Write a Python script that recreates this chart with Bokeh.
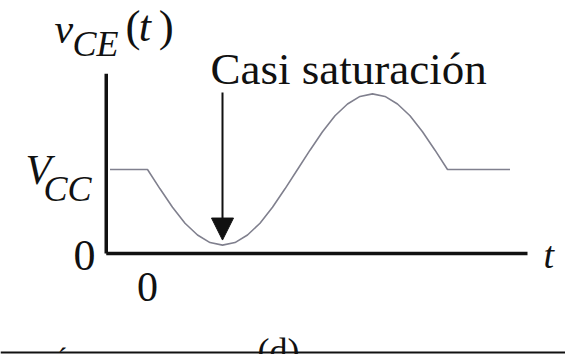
from bokeh.plotting import figure
from bokeh.models import Range1d, Arrow, NormalHead, ColumnDataSource
from bokeh.core.properties import value
from bokeh.embed import file_html
from bokeh.resources import INLINE

# Collector-emitter voltage near saturation: one sinusoidal period around V_CC.
# Time is in 1/24 of a period; voltage in units of V_CC.
VCC = 1.0
T_SAMPLES = [-3, 0, 1, 2, 3, 4, 5, 6, 7, 8, 9, 10, 11, 12,
             13, 14, 15, 16, 17, 18, 19, 20, 21, 22, 23, 24, 29]
V_SAMPLES = [1.00, 1.00, 0.77, 0.55, 0.36, 0.22, 0.13, 0.10, 0.13, 0.22, 0.36, 0.55, 0.77, 1.00,
             1.23, 1.45, 1.64, 1.78, 1.87, 1.90, 1.87, 1.78, 1.64, 1.45, 1.23, 1.00, 1.00]
T_SAT = 6            # instant of minimum v_CE (near saturation)
AXIS_T = [-3.3, 30.4]
AXIS_V = [0.0, 2.14]

SERIF = value("Liberation Serif")
V_PER_PX = 1 / 84.0   # vertical data units per screen pixel

p = figure(width=565, height=354,
           x_range=Range1d(-11.76, 33.44), y_range=Range1d(-1.2024, 3.0119),
           x_axis_type=None, y_axis_type=None,
           output_backend="svg", toolbar_location=None, min_border=0)
p.grid.visible = False
p.outline_line_color = None
p.background_fill_color = "white"
p.border_fill_color = "white"

# hand-drawn axes
p.line(AXIS_T, [0, 0], line_color="#111111", line_width=3.5)
p.line([AXIS_T[0], AXIS_T[0]], AXIS_V, line_color="#111111", line_width=3.5)

# waveform
src = ColumnDataSource(dict(t=T_SAMPLES, v=V_SAMPLES))
p.line("t", "v", source=src, line_color="#80808e", line_width=1.6)


def label(x, y, s, size, italic=True, align="left"):
    # y is the intended baseline; raise the anchor to offset the renderer's baseline shift
    p.text(x=[x], y=[y + 0.33 * size * V_PER_PX], text=[s], text_font=SERIF,
           text_font_size=f"{size}px",
           text_font_style="italic" if italic else "normal",
           text_color="#111111", text_baseline="alphabetic", text_align=align)


# annotation arrow
p.add_layout(Arrow(end=NormalHead(size=22, fill_color="#111111", line_color="#111111"),
                   x_start=T_SAT, y_start=1.917, x_end=T_SAT, y_end=0.16,
                   line_color="#111111", line_width=2))
label(5.04, 2.02, "Casi saturación", 45, italic=False)

# y label v_CE(t)
label(-7.44, 2.51, "v", 42)
label(-6.0, 2.357, "CE", 36)
label(-1.76, 2.53, "(", 45, italic=False)
label(-0.7, 2.53, "t", 44)
label(0.9, 2.53, ")", 45, italic=False)

# V_CC level
label(-9.76, VCC - 0.167, "V", 42)
label(-8.32, VCC - 0.369, "CC", 36)

# zeros and time label
label(-5.92, -0.202, "0", 44, italic=False)
label(0, -0.56, "0", 42, italic=False, align="center")
label(31.68, -0.167, "t", 38)

# caption fragment and rule at the bottom
label(8.8, -1.30, "(d)", 36, italic=False)
label(-7.2, -1.357, "´", 30, italic=False)
p.line([-11.76, 33.44], [-1.179, -1.179], line_color="#111111", line_width=2)

open("out.html", "w").write(file_html(p, INLINE))
